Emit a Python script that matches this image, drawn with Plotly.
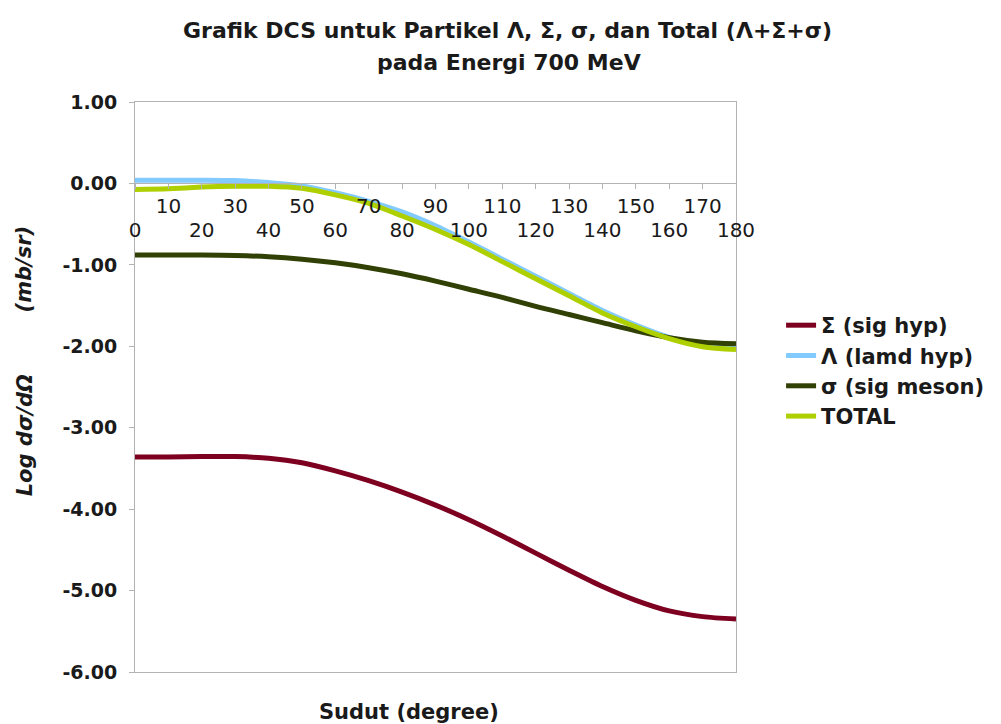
import plotly.graph_objects as go

# ---- data ----
angles = [0, 10, 20, 30, 40, 50, 60, 70, 80, 90, 100, 110, 120, 130, 140, 150, 160, 170, 180]
sigma_hyp = [-3.36, -3.36, -3.355, -3.355, -3.375, -3.43, -3.53, -3.65, -3.79, -3.95,
             -4.13, -4.33, -4.54, -4.75, -4.95, -5.12, -5.25, -5.32, -5.35]
lambda_hyp = [0.04, 0.04, 0.04, 0.035, 0.01, -0.03, -0.115, -0.22, -0.35, -0.52,
              -0.72, -0.93, -1.14, -1.35, -1.56, -1.74, -1.89, -1.99, -2.03]
sigma_meson = [-0.88, -0.88, -0.88, -0.885, -0.90, -0.93, -0.975, -1.035, -1.11, -1.20,
               -1.30, -1.40, -1.51, -1.61, -1.71, -1.81, -1.895, -1.95, -1.97]
total = [-0.075, -0.065, -0.045, -0.035, -0.035, -0.06, -0.14, -0.245, -0.40, -0.565,
         -0.75, -0.96, -1.17, -1.38, -1.59, -1.76, -1.905, -2.005, -2.04]

series_names = ["Σ (sig hyp)", "Λ (lamd hyp)", "σ (sig meson)", "TOTAL"]
series_colors = ["#7E0021", "#83CAFF", "#314004", "#AECF00"]

x_even_ticks = [0, 20, 40, 60, 80, 100, 120, 140, 160, 180]
x_odd_ticks = [10, 30, 50, 70, 90, 110, 130, 150, 170]
y_ticks = [-6, -5, -4, -3, -2, -1, 0, 1]
y_tick_labels = ["-6.00", "-5.00", "-4.00", "-3.00", "-2.00", "-1.00", "0.00", "1.00"]

title_line1 = "Grafik DCS untuk Partikel Λ, Σ, σ, dan Total (Λ+Σ+σ)"
title_line2 = "pada Energi 700 MeV"
x_title = "Sudut (degree)"
y_title_a = "Log dσ/dΩ"
y_title_b = "(mb/sr)"

GRAY = "#b3b3b3"
TXT = "#1a1a1a"
FONT = "DejaVu Sans"

fig = go.Figure()
for name, vals, col in zip(series_names, [sigma_hyp, lambda_hyp, sigma_meson, total], series_colors):
    fig.add_trace(go.Scatter(
        x=angles, y=vals, name=name, mode="lines", legendgroup=name,
        line=dict(color=col, width=5, shape="spline", smoothing=0.8),
    ))

# dummy traces so overlay axes are drawn
fig.add_trace(go.Scatter(x=[None], y=[None], xaxis="x2", showlegend=False, hoverinfo="skip"))
fig.add_trace(go.Scatter(x=[None], y=[None], xaxis="x3", showlegend=False, hoverinfo="skip"))

ypos0 = (0 - (-6)) / 7.0

fig.update_layout(
    width=1001, height=724,
    margin=dict(l=135, r=263, t=102, b=52),
    paper_bgcolor="white", plot_bgcolor="white",
    showlegend=True,
    legend=dict(
        x=1.075, xanchor="left", y=0.528, yanchor="middle",
        font=dict(family=FONT, size=21, color=TXT, weight="bold"),
        tracegroupgap=0, itemwidth=30,
        bgcolor="rgba(0,0,0,0)",
    ),
    xaxis=dict(
        range=[0, 180], anchor="free", position=ypos0,
        tickmode="array", tickvals=x_even_ticks, ticktext=[str(v) for v in x_even_ticks],
        ticks="outside", ticklen=5, tickcolor=GRAY, tickwidth=1,
        showline=True, linecolor=GRAY, linewidth=1,
        showgrid=False, zeroline=False,
        tickfont=dict(family=FONT, size=20, color=TXT),
        ticklabelstandoff=24,
    ),
    xaxis2=dict(
        range=[0, 180], overlaying="x", anchor="free", position=ypos0,
        tickmode="array", tickvals=x_odd_ticks, ticktext=[str(v) for v in x_odd_ticks],
        ticks="outside", ticklen=5, tickcolor=GRAY, tickwidth=1,
        showline=False, showgrid=False, zeroline=False,
        tickfont=dict(family=FONT, size=20, color=TXT),
        ticklabelstandoff=0,
    ),
    xaxis3=dict(
        range=[0, 180], overlaying="x", anchor="y", side="bottom",
        showline=True, mirror=True, linecolor=GRAY, linewidth=1,
        showticklabels=False, ticks="", showgrid=False, zeroline=False,
    ),
    yaxis=dict(
        range=[-6, 1],
        tickmode="array", tickvals=y_ticks, ticktext=y_tick_labels,
        ticks="outside", ticklen=5, tickcolor=GRAY, tickwidth=1,
        showline=True, mirror=True, linecolor=GRAY, linewidth=1,
        showgrid=False, zeroline=False,
        tickfont=dict(family=FONT, size=19, color=TXT, weight="bold"),
        ticklabelstandoff=8,
    ),
    annotations=[
        dict(text=title_line1, xref="paper", yref="paper", x=0.620, y=1.126,
             xanchor="center", yanchor="middle", showarrow=False,
             font=dict(family=FONT, size=22, color=TXT, weight="bold")),
        dict(text=title_line2, xref="paper", yref="paper", x=0.622, y=1.070,
             xanchor="center", yanchor="middle", showarrow=False,
             font=dict(family=FONT, size=22, color=TXT, weight="bold")),
        dict(text=x_title, xref="paper", yref="paper", x=0.456, y=-0.070,
             xanchor="center", yanchor="middle", showarrow=False,
             font=dict(family=FONT, size=21, color=TXT, weight="bold")),
        dict(text=y_title_a, xref="paper", yref="paper", x=-0.184, y=0.416,
             xanchor="center", yanchor="middle", showarrow=False, textangle=-90,
             font=dict(family=FONT, size=21, color=TXT, weight="bold", style="italic")),
        dict(text=y_title_b, xref="paper", yref="paper", x=-0.184, y=0.707,
             xanchor="center", yanchor="middle", showarrow=False, textangle=-90,
             font=dict(family=FONT, size=21, color=TXT, weight="bold", style="italic")),
    ],
)

fig.write_html("out.html")
